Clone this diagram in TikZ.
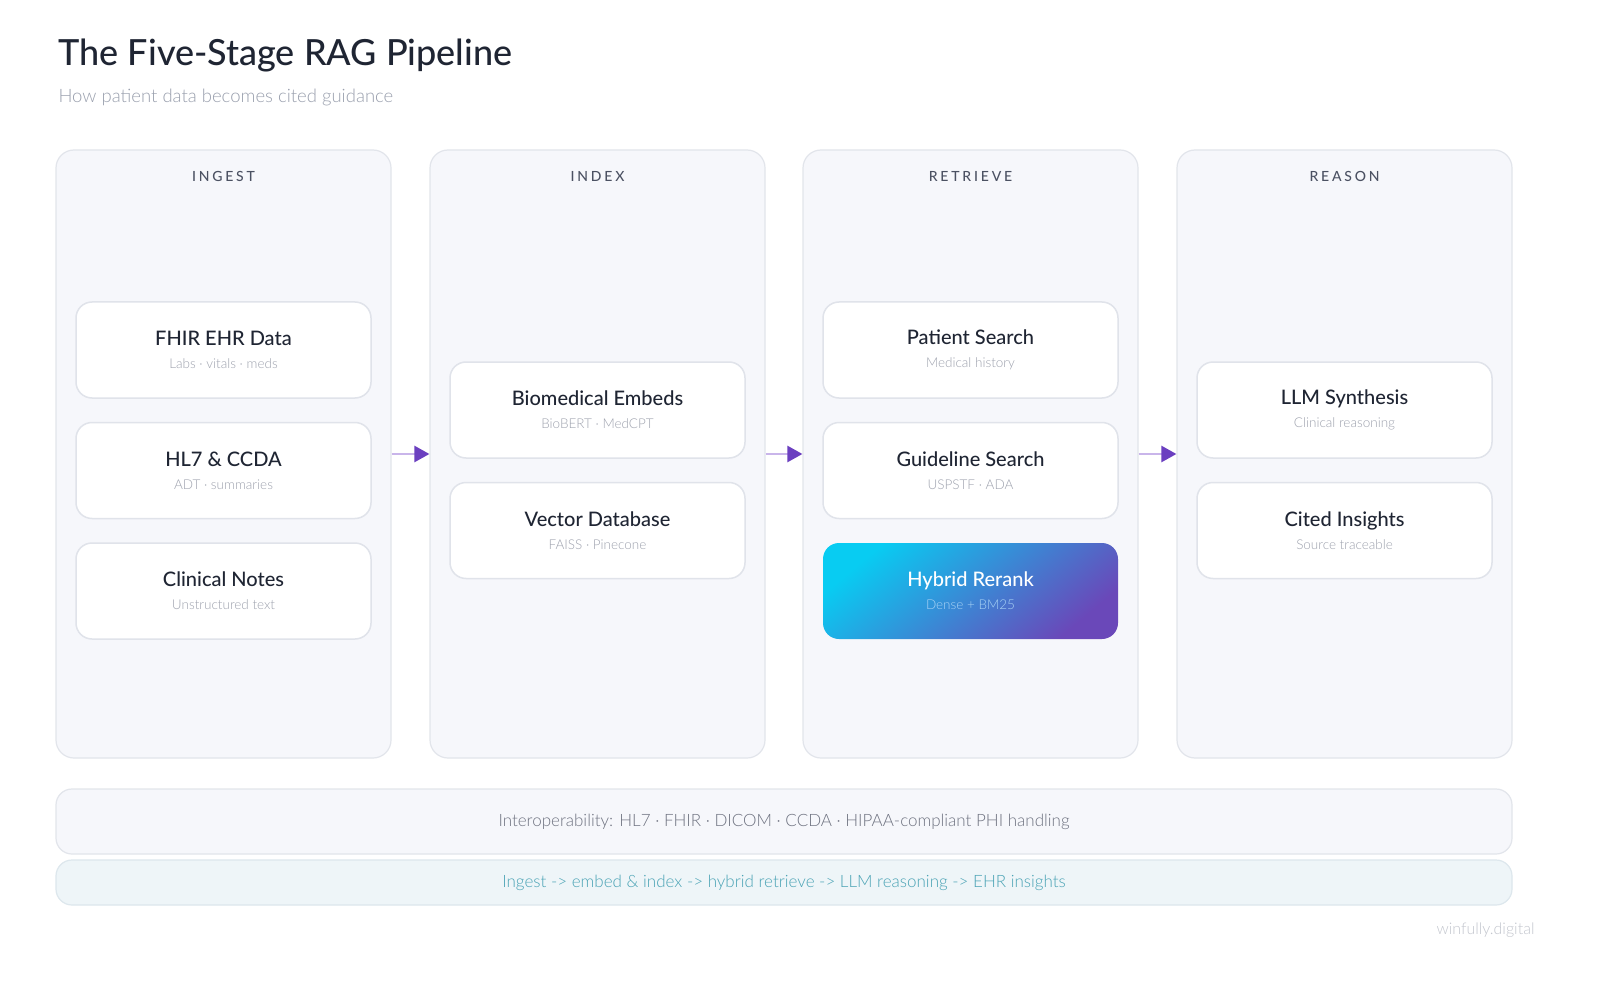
\documentclass[tikz,border=0pt]{standalone}
\usepackage{fontspec}
\setmainfont{Lato}
\newfontfamily\lightfont{Lato}[UprightFont=* Light]
\newfontfamily\medfont{Lato}[UprightFont=* Medium]
\usetikzlibrary{arrows.meta, positioning, backgrounds}
\definecolor{ink}{HTML}{1F2533}
\definecolor{subgrey}{HTML}{9AA0AE}
\definecolor{stagefill}{HTML}{F6F7FB}
\definecolor{stageline}{HTML}{E2E5EB}
\definecolor{headgrey}{HTML}{4B5162}
\definecolor{cardline}{HTML}{E0E3EA}
\definecolor{cardsub}{HTML}{9EA2AE}
\definecolor{arrowline}{HTML}{C9B5EA}
\definecolor{arrowhead}{HTML}{6B3FC0}
\definecolor{rerankA}{HTML}{08CCF2}
\definecolor{rerankM}{HTML}{2F95DC}
\definecolor{rerankB}{HTML}{6A48B9}
\definecolor{rerankSub}{HTML}{A9D3F5}
\definecolor{bartext}{HTML}{6E7280}
\definecolor{sumfill}{HTML}{EEF5F8}
\definecolor{sumline}{HTML}{DDE7ED}
\definecolor{sumtext}{HTML}{4AA3B5}
\definecolor{mark}{HTML}{C3C6CE}
\def\sub#1{\\{\lightfont\fontsize{13.5}{16}\selectfont\color{cardsub}#1}}
\tikzstyle{stage} = [draw=stageline, fill=stagefill, rounded corners=18pt, line width=1.2pt, minimum width=335pt, minimum height=608pt]
\tikzstyle{stagehead} = [font=\medfont\fontsize{14}{16}\selectfont\addfontfeature{LetterSpace=20}, text=headgrey]
\tikzstyle{card} = [draw=cardline, fill=white, rounded corners=16pt, line width=1.5pt, minimum width=295pt, minimum height=96pt, align=center, text=ink, font=\medfont\fontsize{20}{23}\selectfont]
\tikzstyle{hot} = [card, draw=none, top color=rerankA, middle color=rerankM, bottom color=rerankB, shading angle=40, text=white]
\tikzstyle{flow} = [line width=2.5pt, draw=arrowline, -{Triangle[length=15pt, width=16pt, color=arrowhead]}]
\tikzstyle{bar} = [draw=stageline, fill=stagefill, rounded corners=16pt, line width=1.2pt, minimum width=1456pt, font=\lightfont\fontsize{17}{20}\selectfont]

\begin{document}
\begin{tikzpicture}[x=1pt, y=-1pt]
  \useasboundingbox[fill=white] (0,0) rectangle (1600,981);

  \node[anchor=base west, text=ink, font=\medfont\fontsize{36}{40}\selectfont] (title) at (55,66) {The Five-Stage RAG Pipeline};
  \node[anchor=base west, text=subgrey, font=\lightfont\fontsize{18.5}{20}\selectfont] (subtitle) at (55,103) {How patient data becomes cited guidance};

  % stage columns
  \foreach \x/\n/\t in {223.5/ingest/INGEST, 597.5/index/INDEX, 970.5/retrieve/RETRIEVE, 1344.5/reason/REASON}{
    \node[stage] (\n) at (\x,454) {};
    \node[stagehead] (\n h) at ([yshift=-27pt]\n.north) {\t};
  }

  % ingest
  \node[card] (fhir) at (ingest |- 0,350) {FHIR EHR Data\sub{Labs · vitals · meds}};
  \node[card, below=23pt of fhir] (hl7) {HL7 \& CCDA\sub{ADT · summaries}};
  \node[card, below=23pt of hl7] (notes) {Clinical Notes\sub{Unstructured text}};

  % index
  \node[card] (embeds) at (index |- 0,410) {Biomedical Embeds\sub{BioBERT · MedCPT}};
  \node[card, below=23pt of embeds] (vecdb) {Vector Database\sub{FAISS · Pinecone}};

  % retrieve
  \node[card] (patient) at (retrieve |- 0,350) {Patient Search\sub{Medical history}};
  \node[card, below=23pt of patient] (guide) {Guideline Search\sub{USPSTF · ADA}};
  \node[hot, below=23pt of guide] (rerank) {Hybrid Rerank\\{\lightfont\fontsize{13.5}{16}\selectfont\color{rerankSub}Dense + BM25}};

  % reason
  \node[card] (llm) at (reason |- 0,410) {LLM Synthesis\sub{Clinical reasoning}};
  \node[card, below=23pt of llm] (cited) {Cited Insights\sub{Source traceable}};

  \draw[flow] (ingest) -- (index);
  \draw[flow] (index) -- (retrieve);
  \draw[flow] (retrieve) -- (reason);

  \node[bar, minimum height=65pt, text=bartext] (interop) at (784,821.5) {Interoperability: HL7 · FHIR · DICOM · CCDA · HIPAA-compliant PHI handling};
  \node[bar, minimum height=45pt, fill=sumfill, draw=sumline, text=sumtext] (summary) at (784,882.5) {Ingest -> embed \& index -> hybrid retrieve -> LLM reasoning -> EHR insights};

  \node[anchor=east, text=mark, font=\lightfont\fontsize{16}{18}\selectfont] (brand) at (1538,930) {winfully.digital};
\end{tikzpicture}
\end{document}
